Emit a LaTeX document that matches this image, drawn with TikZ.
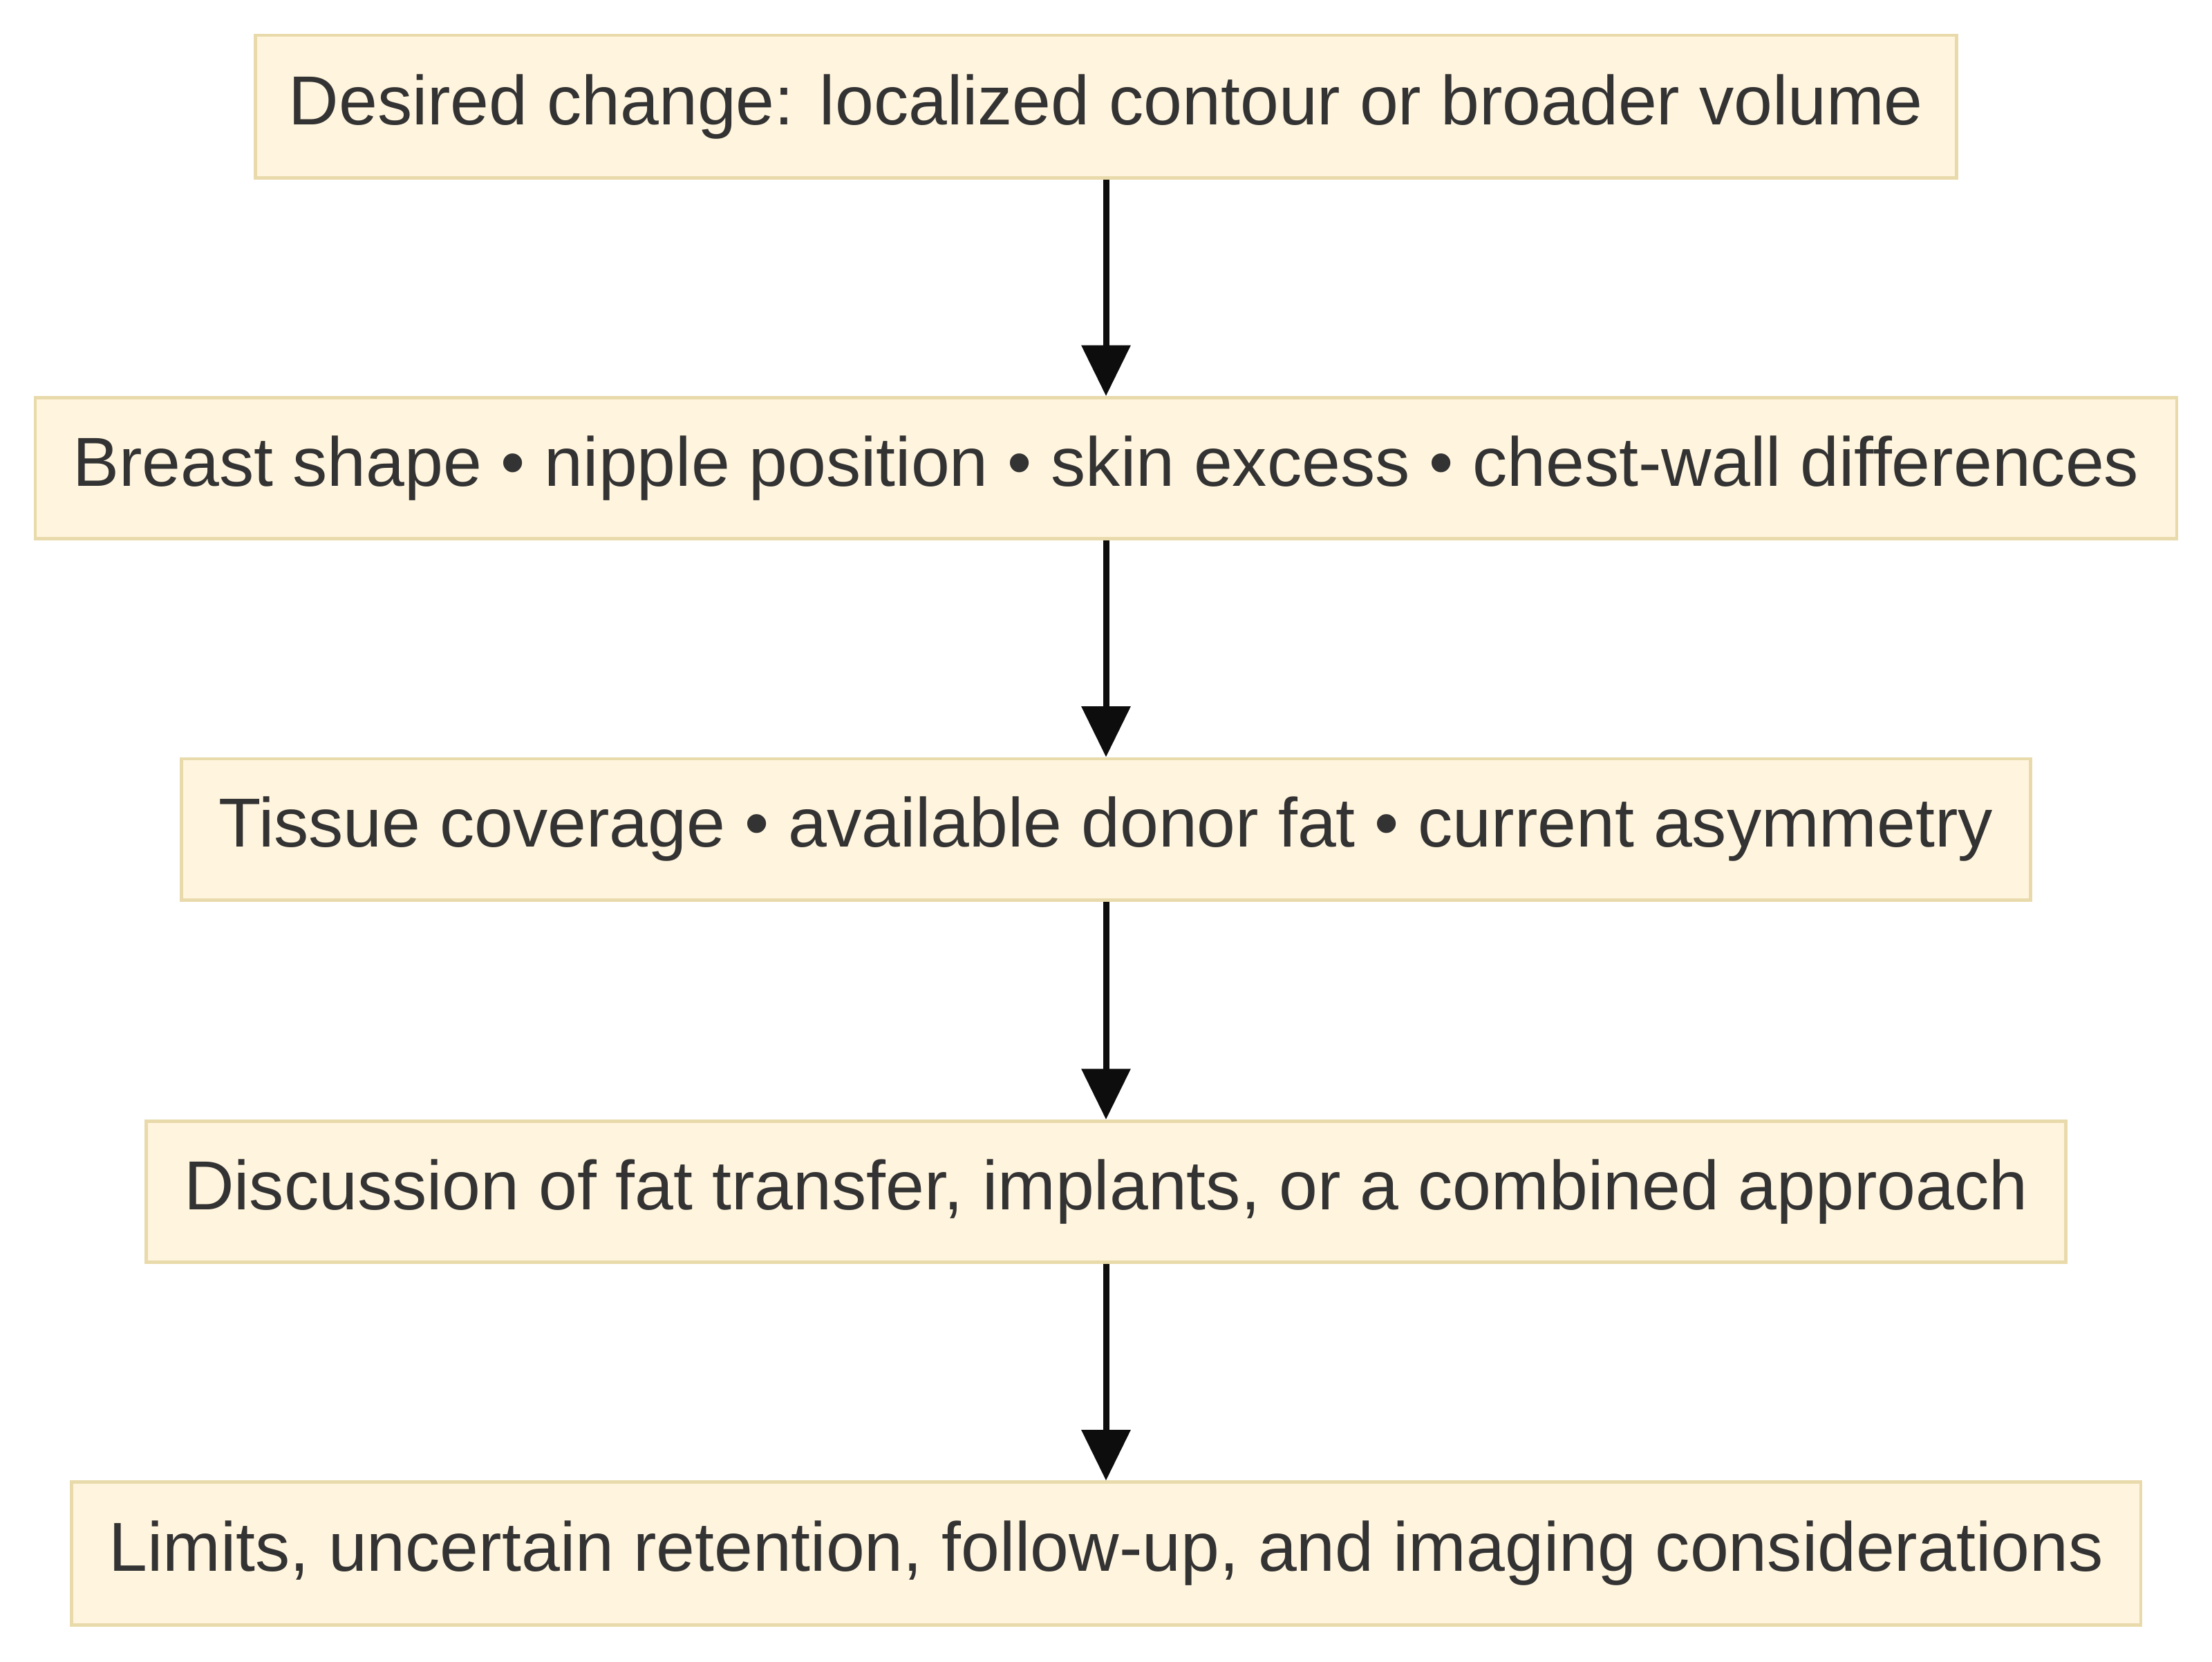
\documentclass[tikz,border=0pt]{standalone}
\usepackage{fontspec}
\setmainfont{Liberation Sans}
\usetikzlibrary{arrows.meta}
\definecolor{boxfill}{HTML}{FFF4DD}
\definecolor{boxline}{HTML}{E8DAAA}
\definecolor{txt}{HTML}{333333}
\begin{document}
\begin{tikzpicture}[x=0.5pt,y=-0.5pt,
  box/.style={draw=boxline,line width=1.2pt,fill=boxfill,text=txt,inner sep=0pt,font=\fontsize{24.6}{29}\selectfont},
  arr/.style={draw=black!95,line width=2.2pt,-{Triangle[length=18pt,width=17pt]}}]
\useasboundingbox (0,0) rectangle (1568,1178);
\node[box,minimum width=603pt,minimum height=50.5pt] (a) at (784,75.5) {Desired change: localized contour or broader volume};
\node[box,minimum width=759pt,minimum height=50pt] (b) at (784,332) {Breast shape • nipple position • skin excess • chest-wall differences};
\node[box,minimum width=655.5pt,minimum height=50pt] (c) at (784,588) {Tissue coverage • available donor fat • current asymmetry};
\node[box,minimum width=680.5pt,minimum height=50pt] (d) at (784,845) {Discussion of fat transfer, implants, or a combined approach};
\node[box,minimum width=733.5pt,minimum height=50.5pt] (e) at (784,1101.5) {Limits, uncertain retention, follow-up, and imaging considerations};
\draw[arr] (a) -- (b);
\draw[arr] (b) -- (c);
\draw[arr] (c) -- (d);
\draw[arr] (d) -- (e);
\end{tikzpicture}
\end{document}
